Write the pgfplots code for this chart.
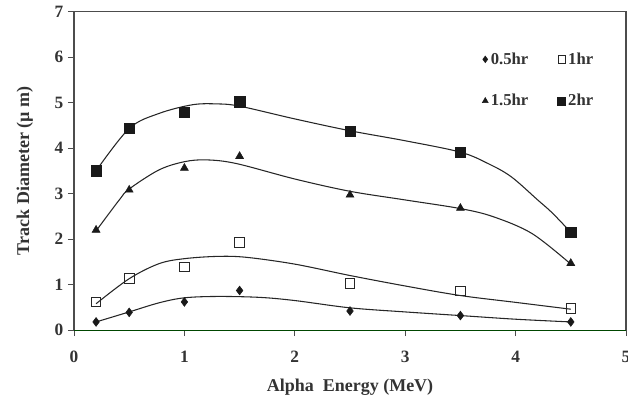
\documentclass[border=0pt]{standalone}
\usepackage{fontspec}
\setmainfont{Liberation Serif}
\usepackage{pgfplots}
\pgfplotsset{compat=1.18}

% measured points (marks) for each etching time
\pgfplotstableread{
x    y
0.2  0.18
0.5  0.39
1.0  0.62
1.5  0.87
2.5  0.42
3.5  0.32
4.5  0.18
}\halfhr
\pgfplotstableread{
x    y
0.2  0.62
0.5  1.14
1.0  1.39
1.5  1.93
2.5  1.03
3.5  0.86
4.5  0.48
}\onehr
\pgfplotstableread{
x    y
0.2  2.20
0.5  3.08
1.0  3.56
1.5  3.82
2.5  2.97
3.5  2.68
4.5  1.47
}\onehalfhr
\pgfplotstableread{
x    y
0.2  3.50
0.5  4.44
1.0  4.78
1.5  5.02
2.5  4.37
3.5  3.91
4.5  2.15
}\twohr

% trend lines
\pgfplotstableread{
x    y
0.2  0.18
0.5  0.40
0.77 0.60
1.0  0.71
1.3  0.74
1.68 0.72
2.0  0.65
2.5  0.49
3.0  0.40
3.5  0.32
4.0  0.24
4.5  0.18
}\halfhrfit
\pgfplotstableread{
x    y
0.2  0.58
0.5  1.13
0.77 1.46
1.0  1.57
1.3  1.62
1.56 1.60
2.0  1.45
2.5  1.20
3.0  0.97
3.5  0.76
4.0  0.61
4.5  0.46
}\onehrfit
\pgfplotstableread{
x    y
0.2  2.18
0.41 2.86
0.5  3.10
0.77 3.52
1.0  3.70
1.2  3.74
1.47 3.66
2.0  3.32
2.5  3.05
3.0  2.86
3.5  2.67
3.8  2.49
4.15 2.12
4.5  1.45
}\onehalfhrfit
\pgfplotstableread{
x    y
0.2  3.50
0.5  4.43
0.77 4.76
1.07 4.95
1.29 4.97
1.5  4.92
2.0  4.64
2.5  4.38
3.0  4.16
3.5  3.91
3.75 3.66
3.96 3.37
4.2  2.86
4.33 2.58
4.5  2.15
}\twohrfit

\begin{document}
\begin{tikzpicture}
\path[use as bounding box] (-55.5pt,-57.75pt) rectangle (415.5pt,247.6pt);
\begin{axis}[
  at={(0,0)}, anchor=south west,
  width=414pt, height=239pt, scale only axis,
  xmin=0, xmax=5, ymin=0, ymax=7,
  clip=false,
  xtick={0,1,2,3,4,5}, ytick={0,1,...,7},
  tick align=outside, tick pos=left,
  major tick length=4.5pt,
  axis line style={black!70, line width=0.9pt},
  tick style={black!70, line width=0.7pt},
  every tick label/.append style={font=\fontsize{13}{15}\selectfont\bfseries, text=black!80},
  /pgf/number format/assume math mode=true,
  xticklabel style={yshift=-7.5pt},
  xlabel={Alpha\ \ Energy (MeV)},
  ylabel={Track Diameter (µ m)},
  label style={font=\fontsize{13.5}{16}\selectfont\bfseries, text=black!80},
  xlabel style={at={(axis description cs:0.5,0)}, anchor=center, yshift=-43pt},
  ylabel style={at={(axis description cs:-0.089,0.5)}, anchor=center},
  legend columns=2,
  legend style={at={(axis cs:3.66,6.22)}, anchor=north west, draw=none, fill=none,
    font=\fontsize{12.5}{15}\selectfont\bfseries, text=black!80,
    row sep=17pt,
    /tikz/every even column/.append style={column sep=20pt}},
  legend cell align=left,
  legend image code/.code={\draw[#1, /tikz/every mark/.append style={scale=0.75}] plot coordinates {(0.15cm,0cm)};},
]
% plot frame and x-axis baseline
\draw[black!70, line width=0.9pt] (rel axis cs:0,0) rectangle (rel axis cs:1,1);
\draw[line width=0.9pt, black!50!green!55!black] (axis cs:0,0) -- (axis cs:5,0);

\addplot[forget plot, smooth, tension=0.55, line width=0.8pt, black!85] table {\halfhrfit};
\addplot[forget plot, smooth, tension=0.55, line width=0.8pt, black!85] table {\onehrfit};
\addplot[forget plot, smooth, tension=0.55, line width=0.8pt, black!85] table {\onehalfhrfit};
\addplot[forget plot, smooth, tension=0.55, line width=0.8pt, black!85] table {\twohrfit};

\addplot[only marks, mark=diamond*, mark size=3.3pt, black!90] table {\halfhr};
\addlegendentry{0.5hr}
\addplot[only marks, mark=square, mark size=3.6pt, black!85, fill=white, mark options={line width=0.6pt}] table {\onehr};
\addlegendentry{1hr}
\addplot[only marks, mark=triangle*, mark size=3.4pt, black!90] table {\onehalfhr};
\addlegendentry{1.5hr}
\addplot[only marks, mark=square*, mark size=3.9pt, black!90] table {\twohr};
\addlegendentry{2hr}
\end{axis}
\end{tikzpicture}
\end{document}
